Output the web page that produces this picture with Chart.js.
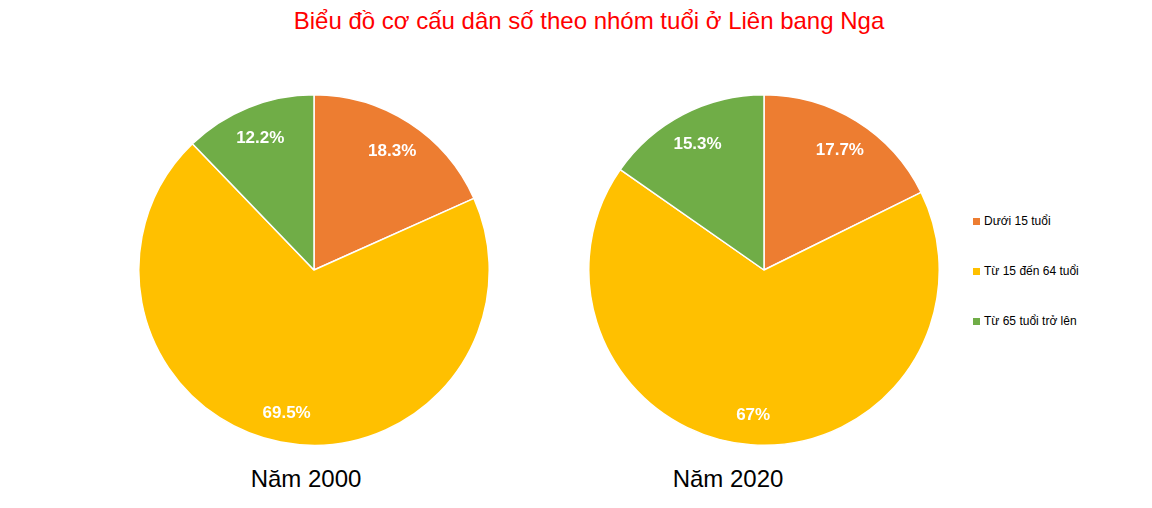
<!DOCTYPE html>
<html>
<head>
<meta charset="utf-8">
<script src="https://cdn.jsdelivr.net/npm/chart.js@4"></script>
<style>
  body { margin: 0; background: #fff; font-family: "Liberation Sans", Arial, sans-serif; }
  #wrap { position: relative; width: 1152px; height: 508px; overflow: hidden; }
  #title { position: absolute; left: 0; width: 1178px; top: 7px; text-align: center; color: #ff0000; font-size: 24px; }
  .pie { position: absolute; top: 94px; width: 352px; height: 352px; }
  .cap { position: absolute; top: 465px; width: 300px; text-align: center; font-size: 24px; color: #000; }
  .leg { position: absolute; left: 973px; font-size: 12px; color: #000; }
  .leg span { display: inline-block; width: 7px; height: 7px; margin-right: 4px; }
</style>
</head>
<body>
<div id="wrap">
  <div id="title">Biểu đồ cơ cấu dân số theo nhóm tuổi ở Liên bang Nga</div>
  <div class="pie" style="left:138px"><canvas id="pie1"></canvas></div>
  <div class="pie" style="left:588px"><canvas id="pie2"></canvas></div>
  <div class="cap" style="left:156px">Năm 2000</div>
  <div class="cap" style="left:578px">Năm 2020</div>
  <div id="legend"></div>
</div>
<script>
// nhom tuoi en kleuren
let categories = ['Dưới 15 tuổi', 'Từ 15 đến 64 tuổi', 'Từ 65 tuổi trở lên']
let colors = ['#ED7D31', '#FFC000', '#70AD47']
let data2000 = [18.3, 69.5, 12.2]
let data2020 = [17.7, 67, 15.3]

// legenda als html tekst
let legend = document.getElementById('legend')
categories.forEach(function (c, i) {
  let d = document.createElement('div')
  d.className = 'leg'
  d.style.top = (214 + i * 50) + 'px'
  d.innerHTML = '<span style="background:' + colors[i] + '"></span>' + c
  legend.appendChild(d)
})

// percentages in de taartpunten
let pctLabels = {
  id: 'pctLabels',
  afterDatasetsDraw(chart) {
    let ctx = chart.ctx
    let meta = chart.getDatasetMeta(0)
    let values = chart.data.datasets[0].data
    ctx.save()
    ctx.fillStyle = '#fff'
    ctx.font = 'bold 17px "Liberation Sans", Arial, sans-serif'
    ctx.textAlign = 'center'
    ctx.textBaseline = 'middle'
    meta.data.forEach(function (arc, i) {
      let p = arc.getProps(['x', 'y', 'startAngle', 'endAngle', 'outerRadius'], true)
      let mid = (p.startAngle + p.endAngle) / 2
      let r = p.outerRadius * 0.82
      ctx.fillText(values[i] + '%', p.x + Math.cos(mid) * r, p.y + 2 + Math.sin(mid) * r)
    })
    ctx.restore()
  }
}

function makePie(id, values) {
  return new Chart(document.getElementById(id).getContext('2d'), {
    type: 'pie',
    data: {
      labels: categories,
      datasets: [{
        data: values,
        backgroundColor: colors,
        borderColor: '#fff',
        borderWidth: 1.5
      }]
    },
    options: {
      responsive: true,
      maintainAspectRatio: false,
      animation: false,
      layout: { padding: 0 },
      plugins: {
        legend: { display: false },
        tooltip: { enabled: false }
      }
    },
    plugins: [pctLabels]
  })
}

let chart1 = makePie('pie1', data2000)
let chart2 = makePie('pie2', data2020)
</script>
</body>
</html>
